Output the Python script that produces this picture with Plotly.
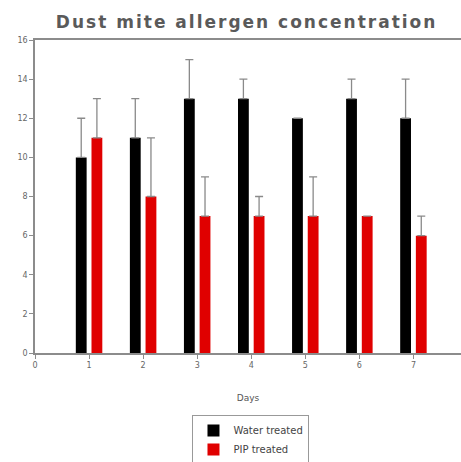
import plotly.graph_objects as go

days = [1, 2, 3, 4, 5, 6, 7]
water = [10, 11, 13, 13, 12, 13, 12]
water_err = [2, 2, 2, 1, None, 1, 2]
pip = [11, 8, 7, 7, 7, 7, 6]
pip_err = [2, 3, 2, 1, 2, None, 1]
x_ticks = [0, 1, 2, 3, 4, 5, 6, 7, 8]
y_ticks = [0, 2, 4, 6, 8, 10, 12, 14, 16]

fig = go.Figure()
fig.add_trace(go.Bar(
    x=days, y=water, name="Water treated", marker_color="#000000",
    marker_line_width=0,
    offset=-0.245, width=0.2,
    error_y=dict(type="data", array=water_err, arrayminus=[0]*7, symmetric=False,
                 color="#8a8a8a", thickness=1.3, width=4),
))
fig.add_trace(go.Bar(
    x=days, y=pip, name="PIP treated", marker_color="#e00000",
    marker_line_width=0,
    offset=0.045, width=0.2,
    error_y=dict(type="data", array=pip_err, arrayminus=[0]*7, symmetric=False,
                 color="#8a8a8a", thickness=1.3, width=4),
))

axis_font = dict(family="DejaVu Sans", size=8, color="#666666")
fig.update_layout(
    width=461, height=462,
    margin=dict(l=35, r=0, t=40, b=109, autoexpand=False),
    paper_bgcolor="white", plot_bgcolor="white",
    barmode="overlay",
    title=dict(text="Dust mite allergen concentration", x=0.535, xanchor="center",
               y=0.952, yanchor="middle",
               font=dict(family="DejaVu Sans", size=17, color="#5a5a5a", weight="bold")),
    xaxis=dict(range=[0, 7.88], tickvals=x_ticks, ticktext=[str(v) for v in x_ticks],
               showgrid=False, zeroline=False, showline=True, linecolor="#8c8c8c",
               linewidth=1.6, mirror=True, ticks="outside", ticklen=4, tickcolor="#8c8c8c",
               tickfont=axis_font, automargin=False,
               title=dict(text="Days", font=dict(family="DejaVu Sans", size=9, color="#555555"),
                          standoff=25)),
    yaxis=dict(range=[0, 16], tickvals=y_ticks, showgrid=False, zeroline=False,
               showline=True, linecolor="#8c8c8c", linewidth=1.6, automargin=False,
               ticks="outside", ticklen=4, tickcolor="#8c8c8c", tickfont=axis_font),
    legend=dict(x=0.507, xanchor="center", y=-0.198, yanchor="top",
                bordercolor="#999999", borderwidth=1, bgcolor="white",
                font=dict(family="DejaVu Sans", size=10, color="#444444"),
                tracegroupgap=0, itemwidth=30),
)

post = """
document.body.style.margin = '0';
document.body.style.padding = '0';
var t = document.querySelector('.gtitle');
if (t) { t.style.letterSpacing = '2px'; }
"""
fig.write_html("out.html", post_script=post, config={"displayModeBar": False})
